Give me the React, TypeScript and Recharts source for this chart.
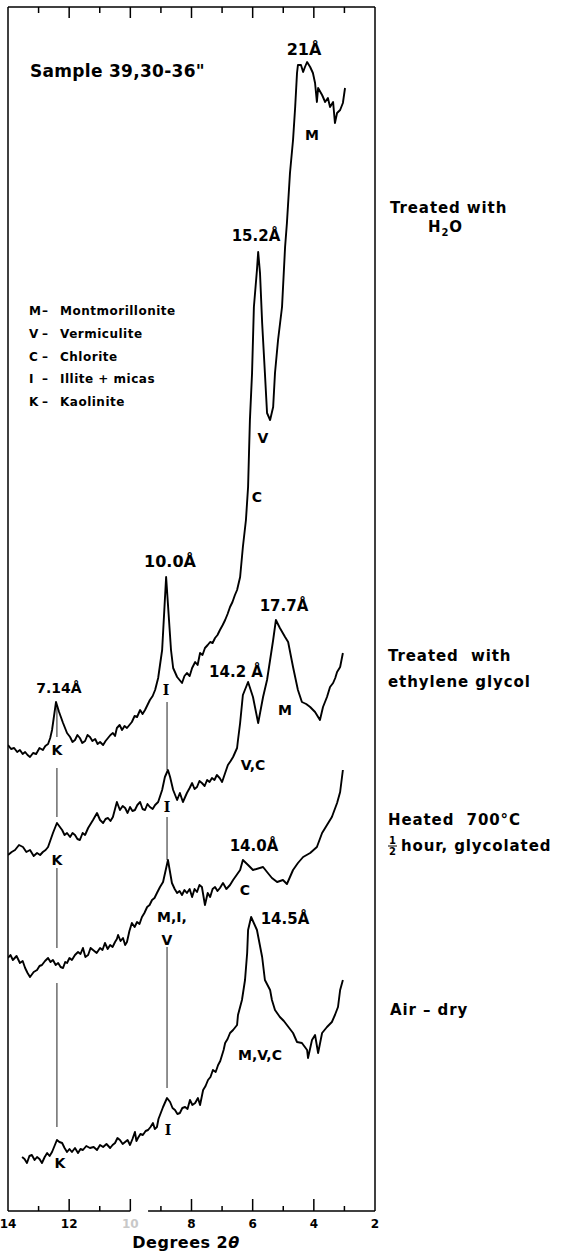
import React from 'react';
import { LineChart, Line, XAxis, YAxis, ReferenceLine } from 'recharts';

const FONT = "'DejaVu Sans', 'Liberation Sans', sans-serif";

// x: degrees 2θ, h: pen height above the baseline (chart units)
const h2oTheta = [14.0, 13.9, 13.8, 13.7, 13.61, 13.52, 13.44, 13.36, 13.28, 13.18, 13.08, 12.97, 12.86, 12.78, 12.69, 12.62, 12.56, 12.43, 12.33, 12.2, 12.07, 11.97, 11.89, 11.81, 11.73, 11.65, 11.57, 11.48, 11.4, 11.32, 11.24, 11.15, 11.07, 10.99, 10.89, 10.81, 10.73, 10.65, 10.57, 10.5, 10.44, 10.35, 10.27, 10.19, 10.11, 10.03, 9.95, 9.86, 9.78, 9.68, 9.6, 9.52, 9.44, 9.36, 9.27, 9.19, 9.09, 9.03, 8.96, 8.83, 8.67, 8.6, 8.47, 8.39, 8.31, 8.23, 8.15, 8.06, 7.98, 7.88, 7.8, 7.72, 7.64, 7.56, 7.47, 7.39, 7.31, 7.23, 7.15, 7.07, 6.98, 6.9, 6.82, 6.74, 6.66, 6.58, 6.51, 6.41, 6.32, 6.22, 6.15, 6.12, 6.09, 6.02, 5.96, 5.86, 5.82, 5.76, 5.69, 5.6, 5.53, 5.43, 5.33, 5.27, 5.17, 5.04, 4.94, 4.88, 4.78, 4.68, 4.61, 4.55, 4.52, 4.42, 4.35, 4.29, 4.22, 4.12, 4.03, 3.96, 3.9, 3.86, 3.73, 3.63, 3.54, 3.47, 3.37, 3.31, 3.24, 3.14, 3.05, 2.98];
const h2oHeight = [466, 462, 463, 459, 461, 457, 459, 456, 454, 458, 457, 463, 461, 465, 467, 473, 481, 509, 499, 488, 478, 474, 469, 471, 476, 473, 468, 470, 476, 474, 470, 472, 467, 469, 466, 470, 473, 476, 478, 475, 483, 486, 481, 485, 483, 486, 489, 495, 494, 501, 497, 501, 506, 511, 515, 521, 533, 546, 561, 634, 561, 543, 534, 531, 528, 535, 538, 535, 543, 549, 546, 558, 556, 563, 566, 569, 568, 573, 576, 581, 586, 591, 597, 604, 609, 616, 621, 634, 664, 691, 724, 758, 791, 838, 904, 941, 959, 938, 888, 838, 798, 791, 804, 838, 871, 904, 964, 988, 1038, 1071, 1104, 1138, 1146, 1146, 1139, 1144, 1149, 1144, 1138, 1128, 1109, 1123, 1116, 1109, 1113, 1104, 1109, 1088, 1098, 1101, 1108, 1123];

const glycolTheta = [14.0, 13.88, 13.77, 13.64, 13.51, 13.4, 13.28, 13.16, 13.05, 12.95, 12.86, 12.77, 12.69, 12.53, 12.4, 12.23, 12.15, 12.07, 11.97, 11.89, 11.81, 11.73, 11.65, 11.56, 11.48, 11.38, 11.3, 11.22, 11.09, 10.99, 10.89, 10.81, 10.73, 10.65, 10.57, 10.44, 10.34, 10.25, 10.17, 10.09, 10.01, 9.93, 9.85, 9.77, 9.68, 9.6, 9.52, 9.44, 9.36, 9.27, 9.19, 9.09, 8.96, 8.87, 8.77, 8.7, 8.6, 8.47, 8.38, 8.28, 8.15, 8.06, 7.98, 7.9, 7.82, 7.74, 7.66, 7.57, 7.49, 7.41, 7.33, 7.25, 7.17, 7.08, 7.0, 6.9, 6.81, 6.72, 6.64, 6.51, 6.48, 6.41, 6.32, 6.15, 5.99, 5.82, 5.66, 5.53, 5.43, 5.33, 5.24, 5.11, 4.94, 4.84, 4.68, 4.52, 4.39, 4.25, 4.12, 3.96, 3.8, 3.7, 3.57, 3.47, 3.37, 3.3, 3.24, 3.14, 3.05];
const glycolHeight = [356, 359, 361, 366, 364, 359, 361, 355, 358, 356, 359, 361, 364, 378, 388, 381, 376, 378, 374, 378, 376, 372, 371, 378, 376, 383, 387, 391, 398, 391, 388, 392, 393, 390, 394, 409, 401, 405, 403, 398, 404, 400, 401, 406, 409, 402, 401, 407, 404, 402, 406, 409, 421, 434, 441, 434, 421, 411, 418, 409, 418, 423, 428, 422, 424, 430, 428, 425, 431, 429, 433, 431, 436, 433, 429, 438, 446, 450, 454, 463, 471, 488, 516, 529, 514, 488, 514, 531, 551, 571, 591, 583, 574, 569, 544, 521, 509, 507, 504, 499, 491, 504, 514, 524, 528, 533, 539, 544, 558];

const heatedTheta = [14.0, 13.92, 13.84, 13.72, 13.61, 13.52, 13.44, 13.36, 13.28, 13.16, 13.05, 12.97, 12.89, 12.79, 12.69, 12.61, 12.53, 12.44, 12.36, 12.28, 12.2, 12.13, 12.07, 11.99, 11.91, 11.81, 11.71, 11.63, 11.55, 11.47, 11.38, 11.3, 11.22, 11.1, 10.99, 10.91, 10.83, 10.74, 10.66, 10.58, 10.5, 10.44, 10.4, 10.32, 10.24, 10.17, 10.11, 10.03, 9.95, 9.86, 9.78, 9.7, 9.62, 9.54, 9.45, 9.37, 9.29, 9.21, 9.13, 9.03, 8.93, 8.77, 8.64, 8.55, 8.47, 8.39, 8.31, 8.23, 8.15, 8.06, 7.98, 7.9, 7.82, 7.74, 7.66, 7.56, 7.47, 7.39, 7.31, 7.23, 7.15, 7.07, 6.97, 6.86, 6.74, 6.64, 6.41, 6.32, 6.15, 5.99, 5.66, 5.53, 5.37, 5.2, 5.01, 4.88, 4.78, 4.68, 4.52, 4.35, 4.12, 3.9, 3.73, 3.57, 3.41, 3.24, 3.14, 3.05];
const heatedHeight = [253, 256, 251, 255, 248, 250, 243, 238, 234, 239, 241, 245, 246, 250, 253, 249, 251, 246, 248, 244, 243, 249, 248, 253, 251, 256, 259, 257, 263, 254, 256, 263, 261, 258, 263, 261, 268, 262, 266, 264, 269, 272, 276, 270, 273, 266, 269, 280, 288, 284, 289, 287, 294, 298, 304, 306, 311, 313, 318, 324, 329, 351, 328, 322, 318, 320, 316, 321, 318, 322, 314, 322, 319, 326, 324, 306, 318, 314, 322, 324, 320, 323, 328, 322, 326, 331, 341, 351, 346, 341, 344, 339, 333, 329, 331, 327, 334, 341, 348, 354, 358, 364, 378, 386, 394, 408, 419, 441];

const airTheta = [13.54, 13.46, 13.38, 13.3, 13.22, 13.13, 13.05, 12.97, 12.89, 12.8, 12.72, 12.64, 12.56, 12.48, 12.4, 12.32, 12.23, 12.15, 12.07, 11.99, 11.91, 11.81, 11.71, 11.63, 11.55, 11.44, 11.32, 11.2, 11.09, 10.99, 10.89, 10.78, 10.66, 10.58, 10.5, 10.42, 10.34, 10.25, 10.17, 10.09, 10.01, 9.93, 9.85, 9.8, 9.75, 9.67, 9.59, 9.5, 9.42, 9.34, 9.26, 9.2, 9.13, 9.08, 9.03, 8.93, 8.8, 8.7, 8.62, 8.54, 8.46, 8.38, 8.3, 8.21, 8.13, 8.05, 7.97, 7.88, 7.79, 7.72, 7.62, 7.54, 7.46, 7.38, 7.3, 7.21, 7.13, 7.06, 7.0, 6.95, 6.9, 6.82, 6.74, 6.64, 6.51, 6.48, 6.35, 6.25, 6.18, 6.15, 6.05, 5.86, 5.69, 5.6, 5.43, 5.37, 5.27, 5.11, 4.98, 4.88, 4.78, 4.68, 4.55, 4.39, 4.22, 4.19, 4.06, 3.96, 3.86, 3.73, 3.57, 3.41, 3.31, 3.21, 3.14, 3.05];
const airHeight = [54, 52, 48, 55, 56, 51, 54, 52, 48, 54, 58, 55, 59, 65, 71, 69, 68, 63, 59, 62, 59, 63, 58, 62, 61, 65, 63, 64, 61, 66, 64, 67, 63, 66, 68, 73, 71, 67, 69, 71, 66, 72, 79, 70, 73, 77, 76, 80, 81, 84, 88, 82, 84, 92, 96, 104, 113, 109, 103, 101, 97, 98, 103, 104, 102, 111, 106, 108, 113, 106, 121, 125, 131, 134, 141, 139, 146, 150, 156, 161, 168, 172, 178, 181, 186, 196, 211, 231, 258, 281, 294, 281, 254, 231, 221, 211, 201, 194, 190, 186, 182, 178, 169, 168, 161, 153, 171, 176, 158, 178, 184, 189, 196, 204, 221, 231];

const xTicks = [14, 12, 10, 8, 6, 4, 2];
const majorMarks = [12, 10, 8, 6, 4];
const minorMarks = [13, 11, 9, 7, 5, 3];

// thin drop lines through the K (7.14 Å) and I (10.0 Å) reflections
const kTheta = 12.4;
const kSegments = [[504, 474], [443, 394], [343, 263], [228, 84]];
const iTheta = 8.8;
const iSegments = [[509, 441], [394, 351], [264, 123]];

const legendKeys = ['M', 'V', 'C', 'I', 'K'];
const legendNames = ['Montmorillonite', 'Vermiculite', 'Chlorite', 'Illite + micas', 'Kaolinite'];

const peakLabels = [
  { t: '21Å', x: 304, y: 50, s: 16 },
  { t: 'M', x: 312, y: 135, s: 14 },
  { t: '15.2Å', x: 256, y: 236, s: 15 },
  { t: 'V', x: 263, y: 438, s: 14 },
  { t: 'C', x: 257, y: 497, s: 14 },
  { t: '10.0Å', x: 170, y: 562, s: 16 },
  { t: 'I', x: 166, y: 690, s: 14 },
  { t: '7.14Å', x: 59, y: 688, s: 14 },
  { t: 'K', x: 57, y: 750, s: 14 },
  { t: '14.2 Å', x: 236, y: 672, s: 15 },
  { t: '17.7Å', x: 284, y: 606, s: 15 },
  { t: 'M', x: 285, y: 710, s: 14 },
  { t: 'K', x: 57, y: 860, s: 14 },
  { t: 'I', x: 167, y: 807, s: 14 },
  { t: 'V,C', x: 253, y: 765, s: 14 },
  { t: '14.0Å', x: 254, y: 846, s: 15 },
  { t: 'C', x: 245, y: 890, s: 14 },
  { t: 'M,I,', x: 172, y: 917, s: 14 },
  { t: 'V', x: 167, y: 940, s: 14 },
  { t: '14.5Å', x: 285, y: 919, s: 15 },
  { t: 'M,V,C', x: 260, y: 1055, s: 14 },
  { t: 'I', x: 168, y: 1130, s: 14 },
  { t: 'K', x: 60, y: 1163, s: 14 },
];

const zip = (xs: number[], hs: number[]) => xs.map((x, i) => ({ x, h: hs[i] }));

const traces = [
  zip(h2oTheta, h2oHeight),
  zip(glycolTheta, glycolHeight),
  zip(heatedTheta, heatedHeight),
  zip(airTheta, airHeight),
];

const BottomTick = (props: any) => {
  const { x, y, payload } = props;
  return (
    <text
      x={x}
      y={y}
      dy={9}
      textAnchor="middle"
      fontSize={12}
      fontWeight={700}
      fontFamily={FONT}
      fill={payload.value === 10 ? '#c8c8c8' : '#000'}
    >
      {payload.value}
    </text>
  );
};

const txt: React.CSSProperties = {
  position: 'absolute',
  fontFamily: FONT,
  fontWeight: 700,
  color: '#000',
  whiteSpace: 'nowrap',
  lineHeight: 1,
};

const side: React.CSSProperties = { ...txt, fontSize: 15, letterSpacing: 0.9, transform: 'translateY(-50%)' };

export default function App() {
  return (
    <div style={{ position: 'relative', width: 570, height: 1254, background: '#fff' }}>
      <style>{'body{margin:0;background:#fff}'}</style>
      <LineChart width={570} height={1254} margin={{ top: 7, right: 195, bottom: 0, left: 8 }}>
        <XAxis
          dataKey="x"
          type="number"
          domain={[2, 14]}
          reversed
          allowDataOverflow
          ticks={xTicks}
          interval={0}
          axisLine={false}
          tickLine={false}
          height={43}
          tick={<BottomTick />}
        />
        <YAxis hide type="number" domain={[0, 1204]} allowDataOverflow />

        {/* frame */}
        <ReferenceLine x={14} stroke="#000" strokeWidth={1.5} />
        <ReferenceLine x={2} stroke="#000" strokeWidth={1.5} />
        <ReferenceLine y={1204} stroke="#000" strokeWidth={1.5} />
        <ReferenceLine segment={[{ x: 14, y: 0 }, { x: 10, y: 0 }]} stroke="#000" strokeWidth={1.5} />
        <ReferenceLine segment={[{ x: 9.42, y: 0 }, { x: 2, y: 0 }]} stroke="#000" strokeWidth={1.5} />

        {majorMarks.map((m) => (
          <ReferenceLine key={`bM${m}`} segment={[{ x: m, y: 0 }, { x: m, y: 12 }]} stroke="#000" strokeWidth={1.5} />
        ))}
        {minorMarks.map((m) => (
          <ReferenceLine key={`bm${m}`} segment={[{ x: m, y: 0 }, { x: m, y: 5 }]} stroke="#000" strokeWidth={1.5} />
        ))}
        {majorMarks.map((m) => (
          <ReferenceLine key={`tM${m}`} segment={[{ x: m, y: 1204 }, { x: m, y: 1193 }]} stroke="#000" strokeWidth={1.5} />
        ))}
        {minorMarks.map((m) => (
          <ReferenceLine key={`tm${m}`} segment={[{ x: m, y: 1204 }, { x: m, y: 1198 }]} stroke="#000" strokeWidth={1.5} />
        ))}

        {kSegments.map(([a, b], i) => (
          <ReferenceLine key={`k${i}`} segment={[{ x: kTheta, y: a }, { x: kTheta, y: b }]} stroke="#222" strokeWidth={1} />
        ))}
        {iSegments.map(([a, b], i) => (
          <ReferenceLine key={`i${i}`} segment={[{ x: iTheta, y: a }, { x: iTheta, y: b }]} stroke="#222" strokeWidth={1} />
        ))}

        {traces.map((d, i) => (
          <Line
            key={i}
            data={d}
            dataKey="h"
            type="linear"
            dot={false}
            stroke="#000"
            strokeWidth={1.9}
            strokeLinejoin="round"
            isAnimationActive={false}
          />
        ))}
      </LineChart>

      <div style={{ ...txt, left: 30, top: 71, fontSize: 17, letterSpacing: 0.3, transform: 'translateY(-50%)' }}>Sample 39,30-36"</div>

      {legendKeys.map((k, i) => (
        <div key={k} style={{ ...txt, left: 29, top: 311 + i * 22.8, fontSize: 12, letterSpacing: 0.5, transform: 'translateY(-50%)' }}>
          <span style={{ display: 'inline-block', width: 13 }}>{k}</span>
          <span style={{ display: 'inline-block', width: 18 }}>–</span>
          {legendNames[i]}
        </div>
      ))}

      {peakLabels.map((p, i) => (
        <div
          key={i}
          style={{
            ...txt,
            left: p.x,
            top: p.y,
            fontSize: p.s,
            fontFamily: p.t === 'I' ? "'DejaVu Serif', serif" : FONT,
            transform: 'translate(-50%,-50%)',
          }}
        >
          {p.t}
        </div>
      ))}

      <div style={{ ...side, left: 390, top: 208 }}>Treated with</div>
      <div style={{ ...side, left: 428, top: 229 }}>
        H<sub style={{ fontSize: 10 }}>2</sub>O
      </div>
      <div style={{ ...side, left: 388, top: 656 }}>Treated&nbsp; with</div>
      <div style={{ ...side, left: 388, top: 682 }}>ethylene glycol</div>
      <div style={{ ...side, left: 388, top: 820 }}>Heated&nbsp; 700°C</div>
      <div style={{ ...side, left: 388, top: 846, display: 'flex', alignItems: 'center' }}>
        <span style={{ display: 'inline-flex', flexDirection: 'column', alignItems: 'center', fontSize: 10, lineHeight: '10px', marginRight: 4, letterSpacing: 0 }}>
          <span style={{ borderBottom: '1.5px solid #000', padding: '0 1px' }}>1</span>
          <span>2</span>
        </span>
        hour, glycolated
      </div>
      <div style={{ ...side, left: 390, top: 1010 }}>Air – dry</div>

      <div style={{ ...txt, left: 186, top: 1243, fontSize: 16, letterSpacing: 0.5, transform: 'translate(-50%,-50%)' }}>
        Degrees 2<i>θ</i>
      </div>
    </div>
  );
}
